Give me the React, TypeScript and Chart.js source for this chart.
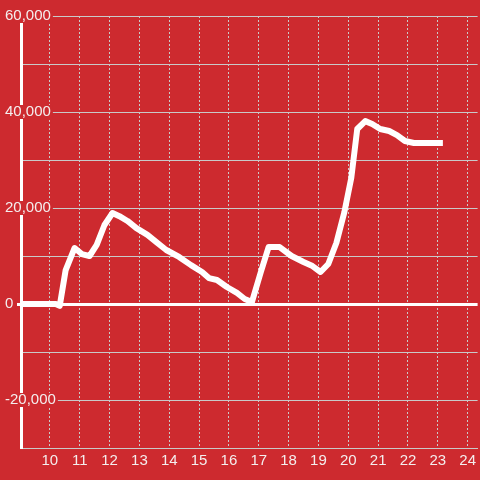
import React, { useEffect, useRef } from 'react';
import { Chart, registerables } from 'chart.js';

Chart.register(...registerables);

// Time of day (hours) and value
const hours = [
  9.033, 10.2, 10.33, 10.53, 10.83, 11.07, 11.33, 11.57, 11.83, 12.1,
  12.33, 12.6, 12.9, 13.27, 13.57, 13.9, 14.33, 14.73, 15.1, 15.33,
  15.6, 15.93, 16.27, 16.53, 16.77, 17.07, 17.33, 17.7, 18.1, 18.5,
  18.8, 19.07, 19.33, 19.6, 19.87, 20.1, 20.3, 20.57, 20.8, 21.07,
  21.37, 21.63, 21.9, 22.2, 22.67, 23.17,
];
const values = [
  0, 0, -400, 7080, 11670, 10400, 10000, 12300, 16460, 18960,
  18300, 17300, 15800, 14400, 12900, 11250, 9800, 8100, 6670, 5400,
  5000, 3540, 2300, 1040, 400, 6670, 11870, 11870, 10000, 8750,
  7900, 6670, 8330, 12700, 19170, 26250, 36460, 38100, 37500, 36460,
  36040, 35200, 33960, 33540, 33540, 33540,
];

const xMin = 9.0333;
const xMax = 24.3333;
const xStep = 1;
const yMin = -30000;
const yMax = 60000;
const yStep = 10000;
const yLabelEvery = 20000;

const RED = 'rgb(205, 42, 47)';
const GRID = '#c9c9c9';
const TEXT = '#f4eeee';
const FONT = "'Liberation Sans', Arial, sans-serif";

export default function App() {
  const ref = useRef<HTMLCanvasElement>(null);
  useEffect(() => {
    if (!ref.current) return;
    const chart = new Chart(ref.current, {
      type: 'line',
      data: {
        datasets: [
          {
            data: hours.map((h, i) => ({ x: h, y: values[i] })),
            borderColor: '#ffffff',
            borderWidth: 6,
            borderJoinStyle: 'round',
            pointRadius: 0,
            tension: 0,
            fill: false,
          },
        ],
      },
      options: {
        animation: false,
        responsive: false,
        maintainAspectRatio: false,
        layout: { padding: { top: 16, left: 5, right: 0, bottom: 0 } },
        plugins: { legend: { display: false }, tooltip: { enabled: false } },
        scales: {
          x: {
            type: 'linear',
            min: xMin,
            max: xMax,
            ticks: {
              stepSize: xStep,
              includeBounds: false,
              autoSkip: false,
              maxRotation: 0,
              color: TEXT,
              padding: 4,
              font: { size: 15, family: FONT },
              callback: (v: any) => String(v),
            },
            grid: { color: GRID, lineWidth: 1, drawTicks: false },
            border: { color: GRID, width: 1, dash: [2, 2] },
            afterFit: (s: any) => {
              s.height = 32;
            },
          },
          y: {
            type: 'linear',
            min: yMin,
            max: yMax,
            ticks: {
              stepSize: yStep,
              mirror: true,
              crossAlign: 'near',
              padding: -16,
              color: TEXT,
              font: { size: 15, family: FONT, lineHeight: 0.8 },
              showLabelBackdrop: true,
              backdropColor: (ctx: any) =>
                ctx.tick && ctx.tick.value % yLabelEvery === 0 ? RED : 'rgba(0,0,0,0)',
              backdropPadding: { top: 1, bottom: 1, left: 2, right: 2 },
              callback: (v: any) =>
                Number(v) % yLabelEvery === 0 ? Number(v).toLocaleString('en-US') : '',
            },
            grid: {
              color: (ctx: any) => (ctx.tick && ctx.tick.value === 0 ? '#ffffff' : GRID),
              lineWidth: (ctx: any) => (ctx.tick && ctx.tick.value === 0 ? 3 : 1),
              drawTicks: true,
              tickLength: 4,
              tickWidth: 3,
              tickColor: (ctx: any) =>
                ctx.tick && ctx.tick.value === 0 ? '#ffffff' : 'rgba(0,0,0,0)',
            },
            border: { color: '#ffffff', width: 3 },
            afterFit: (s: any) => {
              s.width = 16;
            },
          },
        },
      },
    } as any);
    return () => chart.destroy();
  }, []);
  return (
    <div
      style={{
        position: 'fixed',
        left: 0,
        top: 0,
        width: 480,
        height: 480,
        background: RED,
      }}
    >
      <canvas ref={ref} width={480} height={480} style={{ display: 'block' }} />
    </div>
  );
}
